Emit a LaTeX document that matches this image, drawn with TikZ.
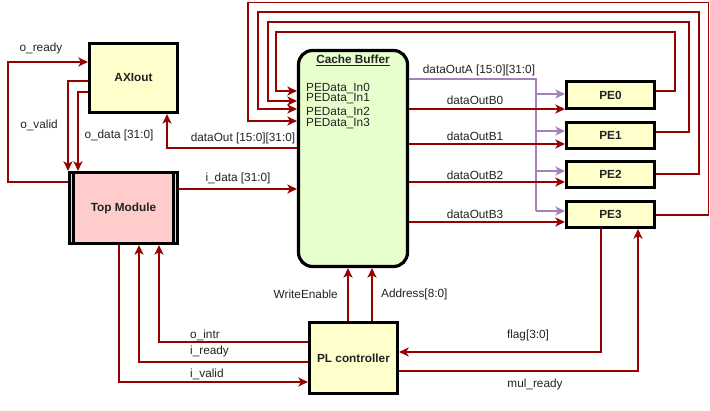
\documentclass[tikz,border=0pt]{standalone}
\usepackage{fontspec}
\setmainfont{Liberation Sans}
\usetikzlibrary{arrows.meta}
\definecolor{wred}{HTML}{990000}
\definecolor{wpurple}{HTML}{A680B8}
\definecolor{boxyellow}{HTML}{FFFFCC}
\definecolor{boxpink}{HTML}{FFCCCC}
\definecolor{boxgreen}{HTML}{E6FFCC}
\definecolor{txt}{HTML}{222222}
\tikzset{
  x=1pt, y=-1pt,
  tip/.tip={Stealth[length=9.5pt,width=9pt,inset=2.5pt]},
  wire/.style={draw=wred, line width=1.8pt},
  awire/.style={wire, -tip},
  pwire/.style={draw=wpurple, line width=1.8pt},
  apwire/.style={pwire, -tip},
  block/.style={draw=black, line width=3.2pt, inner sep=0pt,
    font=\fontsize{11.8}{13}\selectfont\bfseries, text=txt},
  lbl/.style={font=\fontsize{11.8}{13}\selectfont, text=txt, inner sep=0pt},
}
\begin{document}
\begin{tikzpicture}
\useasboundingbox (0,0) rectangle (710,411);

% blocks
\node[block, fill=boxyellow, minimum width=88pt, minimum height=69pt] (axi) at (133.5,78) {AXIout};
\node[block, fill=boxpink, minimum width=108pt, minimum height=71pt] (top) at (123.5,208) {Top Module};
\draw[line width=2.4pt] ([xshift=5.5]top.north west) -- ([xshift=5.5]top.south west)
                        ([xshift=-5.5]top.north east) -- ([xshift=-5.5]top.south east);
\node[block, fill=boxgreen, rounded corners=14pt, minimum width=109pt, minimum height=216pt] (cache) at (353,158.5) {};
\node[lbl, font=\fontsize{11.8}{13}\selectfont\bfseries] (cachetitle) at (353,60) {\underline{Cache Buffer}};
\node[lbl, anchor=west] (in0) at (306,89) {PEData\_In0};
\node[lbl, anchor=west] (in1) at (306,99) {PEData\_In1};
\node[lbl, anchor=west] (in2) at (306,113) {PEData\_In2};
\node[lbl, anchor=west] (in3) at (306,124) {PEData\_In3};
\node[block, fill=boxyellow, minimum width=88pt, minimum height=27pt] (pe0) at (610.5,95) {PE0};
\node[block, fill=boxyellow, minimum width=88pt, minimum height=26pt] (pe1) at (610.5,135.5) {PE1};
\node[block, fill=boxyellow, minimum width=88pt, minimum height=26pt] (pe2) at (610.5,174.5) {PE2};
\node[block, fill=boxyellow, minimum width=88pt, minimum height=26pt] (pe3) at (610.5,214.5) {PE3};
\node[block, fill=boxyellow, minimum width=88pt, minimum height=71pt] (pl) at (353.5,358) {PL controller};

% PE results fed back into the cache buffer
\draw[awire] (pe0.east |- 0,91)  -- (675,91)  |- (276,32) |- (cache.west |- 0,91);
\draw[awire] (pe1.east |- 0,132) -- (689,132) |- (268,22) |- (cache.west |- 0,101);
\draw[awire] (pe2.east |- 0,174) -- (699,174) |- (258,12) |- (cache.west |- 0,109);
\draw[awire] (pe3.east |- 0,215) -- (708.5,215) |- (248,2.5)  |- (cache.west |- 0,121);

% shared operand bus A
\coordinate (busA) at (536,79);
\draw[pwire] (cache.east |- busA) -- (busA) -- (busA |- 0,211);
\draw[apwire] (busA |- 0,94)  -- (pe0.west |- 0,94);
\draw[apwire] (busA |- 0,131) -- (pe1.west |- 0,131);
\draw[apwire] (busA |- 0,171) -- (pe2.west |- 0,171);
\draw[apwire] (busA |- 0,211) -- (pe3.west |- 0,211);
\node[lbl] (lA) at (479,70) {dataOutA [15:0][31:0]};

% per-PE operands B
\draw[awire] (cache.east |- 0,109) -- (pe0.west |- 0,109);
\draw[awire] (cache.east |- 0,144) -- (pe1.west |- 0,144);
\draw[awire] (cache.east |- 0,182) -- (pe2.west |- 0,182);
\draw[awire] (cache.east |- 0,222) -- (pe3.west |- 0,222);
\node[lbl] (lB0) at (475,100) {dataOutB0};
\node[lbl] (lB1) at (475,136) {dataOutB1};
\node[lbl] (lB2) at (475,175) {dataOutB2};
\node[lbl] (lB3) at (475,214) {dataOutB3};

% PE status and controller handshake
\draw[awire] (pe3.south -| 601,0) -- (601,352) -- (pl.east |- 0,352);
\draw[awire] (pl.east |- 0,371) -| (pe3.south -| 638,0);
\node[lbl] (lflag) at (528,335) {flag[3:0]};
\node[lbl] (lmul) at (535,384) {mul\_ready};

% controller to cache buffer
\draw[awire] (pl.north -| 348,0) -- (cache.south -| 348,0);
\draw[awire] (pl.north -| 372,0) -- (cache.south -| 372,0);
\node[lbl, anchor=east] (lwe) at (338,294) {WriteEnable};
\node[lbl, anchor=west] (ladr) at (381,294) {Address[8:0]};

% controller and top module
\draw[awire] (pl.west |- 0,342) -| (top.south -| 159,0);
\draw[awire] (pl.west |- 0,362) -| (top.south -| 139,0);
\draw[awire] (top.south -| 119,0) |- (pl.west |- 0,382);
\node[lbl, anchor=west] (lintr) at (190,335) {o\_intr};
\node[lbl, anchor=west] (lrdy) at (190,351) {i\_ready};
\node[lbl, anchor=west] (lvld) at (190,374) {i\_valid};

% top module and AXI output
\draw[awire] (top.west |- 0,182) -- (8,182) |- (axi.west |- 0,62);
\draw[awire] (axi.west |- 0,81) -| (top.north -| 68,0);
\draw[awire] (axi.west |- 0,92) -| (top.north -| 78,0);
\node[lbl] (lordy) at (41,48) {o\_ready};
\node[lbl] (lovld) at (39,125) {o\_valid};
\node[lbl] (lodata) at (119,135) {o\_data [31:0]};

% cache buffer read-out and input data
\draw[awire] (cache.west |- 0,148) -| (axi.south -| 167,0);
\draw[awire] (top.east |- 0,189) -- (cache.west |- 0,189);
\node[lbl] (ldout) at (243,138) {dataOut [15:0][31:0]};
\node[lbl] (lidata) at (238,178) {i\_data [31:0]};
\end{tikzpicture}
\end{document}
